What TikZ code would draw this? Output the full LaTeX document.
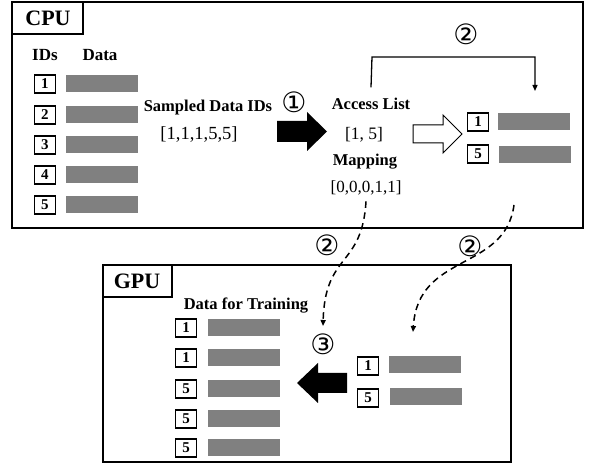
\documentclass[tikz,border=0pt]{standalone}
\usepackage{fontspec}
\setmainfont{Liberation Serif}
\newfontfamily\circfont{DejaVu Sans}
\usetikzlibrary{arrows.meta}

\definecolor{bargray}{RGB}{128,128,128}

\begin{document}
\begin{tikzpicture}[x=1pt,y=-1pt,
  frame/.style={draw, line width=2.6pt},
  tagbox/.style={draw, line width=2.2pt},
  title/.style={font=\fontsize{22}{24}\selectfont\bfseries, inner sep=0pt},
  head/.style={font=\fontsize{17}{19}\selectfont\bfseries, inner sep=0pt, anchor=base},
  lbl/.style={font=\fontsize{16.5}{18}\selectfont\bfseries, inner sep=0pt, anchor=base},
  lst/.style={font=\fontsize{17.5}{19}\selectfont, inner sep=0pt},
  idbox/.style={draw, line width=1.1pt, minimum width=21pt, minimum height=18pt,
                inner sep=0pt, font=\fontsize{15}{15}\selectfont\bfseries},
  bar/.style={fill=bargray, minimum width=72pt, minimum height=17pt, inner sep=0pt},
  circ/.style={font=\circfont\fontsize{28}{28}\selectfont, inner sep=0pt},
  link/.style={line width=1.3pt, -{Triangle[length=6pt,width=5pt]}},
  flow/.style={link, line width=1.5pt, dash pattern=on 6.5pt off 4.5pt}
]
\useasboundingbox (0,0) rectangle (590,465);

% ---------------- CPU ----------------
\draw[frame] (12,2) rectangle (583,228);
\draw[tagbox] (12,2) rectangle (83,34);
\node[title] (cpu) at (48,18) {CPU};

\node[head] (ids) at (45,61) {IDs};
\node[head] (data) at (100,61) {Data};

\foreach \i/\y in {1/84,2/115,3/145,4/175,5/205}{
  \node[idbox] (c\i) at (45,\y) {\i};
  \node[bar] (cb\i) at (102,\y) {};
}

\node[lbl] (sampled) at (208,112) {Sampled Data IDs};
\node[lst, font=\fontsize{18.5}{20}\selectfont] (slist) at (199,135) {[1,1,1,5,5]};
\node[circ] (one) at (294,102) {①};

% sampling step
\fill (277,121) -- (307,121) -- (307,112) -- (327,131.5) -- (307,151) -- (307,142) -- (277,142) -- cycle;

\node[lbl] (acc) at (371,110) {Access List};
\node[lst] (alist) at (364,135) {[1, 5]};
\node[lbl] (map) at (365,166) {Mapping};
\node[lst, font=\fontsize{17}{19}\selectfont] (mlist) at (366,188) {[0,0,0,1,1]};

% gathering step
\draw[line width=1pt, fill=white] (413,125) -- (443,125) -- (443,115) -- (462,134) -- (443,153) -- (443,143) -- (413,143) -- cycle;

\node[idbox] (r1) at (478,122) {1};
\node[bar]   (rb1) at (534,122) {};
\node[idbox] (r5) at (478,154) {5};
\node[bar]   (rb5) at (535,155) {};

% access list selects the rows
\coordinate (sel) at (535,91);
\draw[link] (acc.north) ++(0,-11) -- (372,57) -| (sel);
\node[circ] (two) at (466,34) {②};

% ---------------- GPU ----------------
\draw[frame] (103,265) rectangle (511,462);
\draw[tagbox] (103,265) rectangle (172,297);
\node[title] (gpu) at (137,281) {GPU};

\node[lbl] (train) at (246,310) {Data for Training};

\foreach \i/\n/\y in {1/1/328,2/1/358,3/5/389,4/5/419,5/5/448}{
  \node[idbox] (g\i) at (186,\y) {\n};
  \node[bar] (gb\i) at (244,\y) {};
}

\node[idbox] (h1) at (368,366) {1};
\node[bar]   (hb1) at (425,365) {};
\node[idbox] (h5) at (368,398) {5};
\node[bar]   (hb5) at (426,397) {};

% reordering step
\fill (297,383) -- (318,363) -- (318,373) -- (347,373) -- (347,393) -- (318,393) -- (318,403) -- cycle;
\node[circ] (three) at (323,344) {③};

% transfers to the GPU
\coordinate (mapin) at (323,326);
\coordinate (rowin) at (413,332);
\draw[flow] (mlist.south) ++(0,6) .. controls (362,268) and (325,252) .. (mapin);
\draw[flow] (514,205) .. controls (505,272) and (418,252) .. (rowin);
\node[circ] (twoa) at (327,245) {②};
\node[circ] (twob) at (470,246) {②};
\end{tikzpicture}
\end{document}
